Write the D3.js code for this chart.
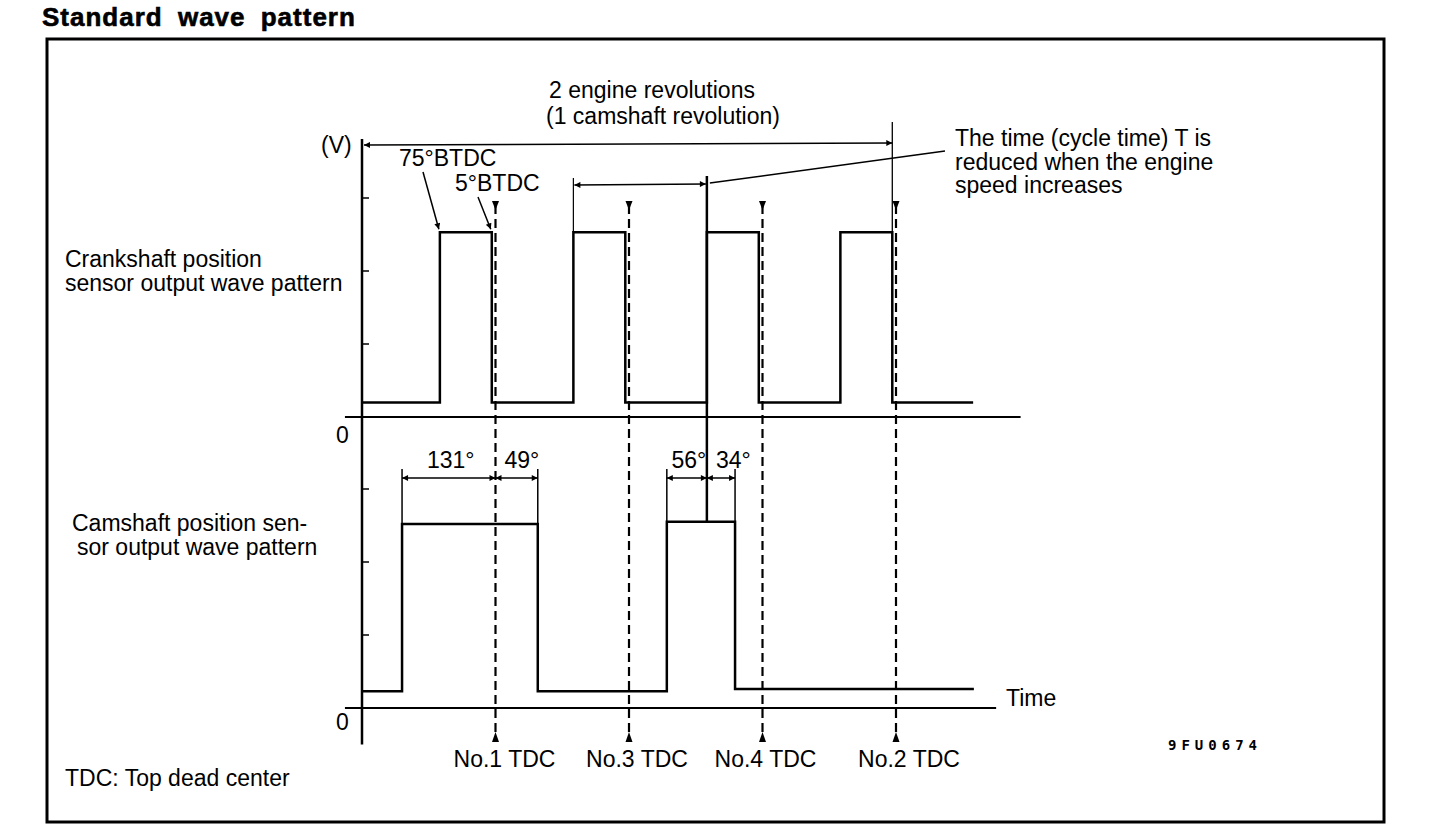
<!DOCTYPE html>
<html>
<head>
<meta charset="utf-8">
<script src="https://cdn.jsdelivr.net/npm/d3@7"></script>
<style>
  html, body { margin: 0; padding: 0; background: #fff; }
  svg { display: block; }
  text { font-family: "Liberation Sans", Arial, sans-serif; fill: #000; }
</style>
</head>
<body>
<div id="chart"></div>
<script>
// crank angle in degrees, 0 = left axis, No.1 TDC at 180
const tdcAngles = [180, 360, 540, 720];
const tdcLabels = ['No.1 TDC', 'No.3 TDC', 'No.4 TDC', 'No.2 TDC'];
const tdcLabelShift = [9, 8, 3, 13]; // label offsets

// crankshaft signal: [angle, level]
const crankWave = [
  [0, 0.2], [105, 0.2], [105, 2.53], [175, 2.53], [175, 0.2],
  [285, 0.2], [285, 2.53], [355, 2.53], [355, 0.2],
  [465, 0.2], [465, 2.53], [535, 2.53], [535, 0.2],
  [645, 0.2], [645, 2.53], [715, 2.53], [715, 0.2], [824, 0.2],
];
// camshaft signal: [angle, level]
const camWave = [
  [0, 0.23], [54, 0.23], [54, 2.52], [237, 2.52], [237, 0.23],
  [411, 0.23], [411, 2.55], [503, 2.55], [503, 0.26], [825, 0.26],
];
const crankTicks = [1, 2, 3];
const camTicks = [1, 2, 3];

const camDims = [
  {from: 54, mid: 180, to: 237, left: '131°', right: '49°'},
  {from: 411, mid: 465, to: 503, left: '56°', right: '34°'},
];

const width = 1440;
const height = 832;
const fs = '23px';

const svg = d3.select('#chart').append('svg')
  .attr('width', width)
  .attr('height', height);

// scales
const x = d3.scaleLinear().domain([0, 720]).range([362, 896]);
const yCrank = d3.scaleLinear().domain([0, 3]).range([417, 198]);
const yCam = d3.scaleLinear().domain([0, 3]).range([708, 489]);

// arrowhead markers
const defs = svg.append('defs');
defs.append('marker')
  .attr('id', 'arr')
  .attr('viewBox', '0 0 10 10')
  .attr('refX', 10).attr('refY', 5)
  .attr('markerWidth', 9).attr('markerHeight', 6)
  .attr('markerUnits', 'userSpaceOnUse')
  .attr('orient', 'auto-start-reverse')
  .append('path').attr('d', 'M0,0L10,5L0,10z').attr('fill', '#000');

// frame + title
svg.append('rect')
  .attr('x', 47).attr('y', 39).attr('width', 1337).attr('height', 783)
  .attr('fill', 'none').attr('stroke', '#000').attr('stroke-width', 3);

svg.append('text')
  .attr('x', 42).attr('y', 26)
  .style('font-size', '26px').style('font-weight', 'bold')
  .style('letter-spacing', '1px').style('word-spacing', '7px')
  .style('stroke', '#000').style('stroke-width', 0.6)
  .text('Standard wave pattern');

const line = d3.line();

// axes: single vertical line, zero lines
svg.append('line')
  .attr('x1', x(0)).attr('x2', x(0))
  .attr('y1', 139).attr('y2', yCam(-0.5))
  .attr('stroke', '#000').attr('stroke-width', 2.5);

svg.append('line')
  .attr('x1', x(-23)).attr('x2', x(888))
  .attr('y1', yCrank(0)).attr('y2', yCrank(0))
  .attr('stroke', '#000').attr('stroke-width', 2);
svg.append('line')
  .attr('x1', x(-23)).attr('x2', x(855))
  .attr('y1', yCam(0)).attr('y2', yCam(0))
  .attr('stroke', '#000').attr('stroke-width', 2);

svg.append('g').selectAll('line').data(crankTicks).join('line')
  .attr('x1', x(0)).attr('x2', x(0) + 7)
  .attr('y1', (d) => yCrank(d)).attr('y2', (d) => yCrank(d))
  .attr('stroke', '#000').attr('stroke-width', 1.5);
svg.append('g').selectAll('line').data(camTicks).join('line')
  .attr('x1', x(0)).attr('x2', x(0) + 7)
  .attr('y1', (d) => yCam(d)).attr('y2', (d) => yCam(d))
  .attr('stroke', '#000').attr('stroke-width', 1.5);

// the wave patterns
svg.append('path')
  .attr('d', line(crankWave.map((d) => [x(d[0]), yCrank(d[1])])))
  .attr('fill', 'none').attr('stroke', '#000').attr('stroke-width', 2.5);
svg.append('path')
  .attr('d', line(camWave.map((d) => [x(d[0]), yCam(d[1])])))
  .attr('fill', 'none').attr('stroke', '#000').attr('stroke-width', 2.5);

// TDC dashed lines with triangles
const tdc = svg.append('g').selectAll('g').data(tdcAngles).join('g');
tdc.append('line')
  .attr('x1', (d) => x(d)).attr('x2', (d) => x(d))
  .attr('y1', 205).attr('y2', 735)
  .attr('stroke', '#000').attr('stroke-width', 2.2)
  .attr('stroke-dasharray', '9 5');
tdc.append('path')
  .attr('d', (d) => `M${x(d) - 3.5},201L${x(d) + 3.5},201L${x(d)},210z`);
tdc.append('path')
  .attr('d', (d) => `M${x(d) - 3.5},742L${x(d) + 3.5},742L${x(d)},732z`);
tdc.append('text')
  .attr('x', (d, i) => x(d) + tdcLabelShift[i]).attr('y', 767)
  .attr('text-anchor', 'middle')
  .style('font-size', fs)
  .text((d, i) => tdcLabels[i]);

// 2 engine revolutions dimension
const revY = 145;
svg.append('line')
  .attr('x1', x(0) + 2).attr('x2', x(715))
  .attr('y1', revY).attr('y2', revY - 2)
  .attr('stroke', '#000').attr('stroke-width', 1.5)
  .attr('marker-start', 'url(#arr)').attr('marker-end', 'url(#arr)');
svg.append('line')
  .attr('x1', x(715)).attr('x2', x(715))
  .attr('y1', 122).attr('y2', yCrank(2.53))
  .attr('stroke', '#000').attr('stroke-width', 1.3);
svg.append('text').attr('x', 652).attr('y', 98).attr('text-anchor', 'middle')
  .style('font-size', fs).text('2 engine revolutions');
svg.append('text').attr('x', 663).attr('y', 124).attr('text-anchor', 'middle')
  .style('font-size', fs).text('(1 camshaft revolution)');

// cycle time T dimension
const cycY = 185;
svg.append('line')
  .attr('x1', x(285)).attr('x2', x(285))
  .attr('y1', 178).attr('y2', yCrank(2.53))
  .attr('stroke', '#000').attr('stroke-width', 1.2);
svg.append('line')
  .attr('x1', x(285) + 1).attr('x2', x(465) - 1)
  .attr('y1', cycY).attr('y2', cycY - 1)
  .attr('stroke', '#000').attr('stroke-width', 1.5)
  .attr('marker-start', 'url(#arr)').attr('marker-end', 'url(#arr)');
svg.append('line')
  .attr('x1', x(465)).attr('x2', x(465))
  .attr('y1', 176).attr('y2', yCam(2.55))
  .attr('stroke', '#000').attr('stroke-width', 2.5);
svg.append('line')
  .attr('x1', x(465) + 3).attr('x2', 945)
  .attr('y1', cycY - 2).attr('y2', 151)
  .attr('stroke', '#000').attr('stroke-width', 1.5);

// crank annotations
svg.append('text').attr('x', 321).attr('y', 153)
  .style('font-size', fs).text('(V)');
svg.append('text').attr('x', 399).attr('y', 166)
  .style('font-size', fs).text('75°BTDC');
svg.append('text').attr('x', 455).attr('y', 191)
  .style('font-size', fs).text('5°BTDC');
svg.append('line')
  .attr('x1', 423).attr('x2', x(105) - 1)
  .attr('y1', 172).attr('y2', yCrank(2.53) - 3)
  .attr('stroke', '#000').attr('stroke-width', 1.5)
  .attr('marker-end', 'url(#arr)');
svg.append('line')
  .attr('x1', 478).attr('x2', x(175) - 1)
  .attr('y1', 197).attr('y2', yCrank(2.53) - 3)
  .attr('stroke', '#000').attr('stroke-width', 1.5)
  .attr('marker-end', 'url(#arr)');

const note = ['The time (cycle time) T is', 'reduced when the engine', 'speed increases'];
svg.append('g').selectAll('text').data(note).join('text')
  .attr('x', 955).attr('y', (d, i) => 146 + i * 23.5)
  .style('font-size', fs).text((d) => d);

// left labels
const crankLabel = ['Crankshaft position', 'sensor output wave pattern'];
svg.append('g').selectAll('text').data(crankLabel).join('text')
  .attr('x', 65).attr('y', (d, i) => 267 + i * 23.5)
  .style('font-size', fs).text((d) => d);
const camLabel = ['Camshaft position sen-', 'sor output wave pattern'];
svg.append('g').selectAll('text').data(camLabel).join('text')
  .attr('x', (d, i) => 72 + i * 5).attr('y', (d, i) => 531 + i * 23.5)
  .style('font-size', fs).text((d) => d);

svg.append('text').attr('x', 336).attr('y', 443)
  .style('font-size', fs).text('0');
svg.append('text').attr('x', 336).attr('y', 730)
  .style('font-size', fs).text('0');
svg.append('text').attr('x', 1006).attr('y', 706)
  .style('font-size', fs).text('Time');

// camshaft angle dimensions
const dimY = 478;
camDims.forEach((d) => {
  [d.from, d.to].forEach((a) => {
    svg.append('line')
      .attr('x1', x(a)).attr('x2', x(a))
      .attr('y1', dimY - 9).attr('y2', yCam(2.52))
      .attr('stroke', '#000').attr('stroke-width', 1.5);
  });
  svg.append('line')
    .attr('x1', x(d.from)).attr('x2', x(d.mid))
    .attr('y1', dimY).attr('y2', dimY)
    .attr('stroke', '#000').attr('stroke-width', 1.5)
    .attr('marker-start', 'url(#arr)').attr('marker-end', 'url(#arr)');
  svg.append('line')
    .attr('x1', x(d.mid)).attr('x2', x(d.to))
    .attr('y1', dimY).attr('y2', dimY)
    .attr('stroke', '#000').attr('stroke-width', 1.5)
    .attr('marker-start', 'url(#arr)').attr('marker-end', 'url(#arr)');
  svg.append('text')
    .attr('x', (x(d.from) + x(d.mid)) / 2 + 2).attr('y', 468)
    .attr('text-anchor', 'middle')
    .style('font-size', fs).text(d.left);
  svg.append('text')
    .attr('x', x(d.mid) + 9).attr('y', 468)
    .style('font-size', fs).text(d.right);
});

// footer
svg.append('text').attr('x', 1168).attr('y', 750)
  .style('font-family', '"DejaVu Sans Mono", monospace')
  .style('font-size', '14px').style('font-weight', 'bold')
  .style('letter-spacing', '5px')
  .text('9FU0674');
svg.append('text').attr('x', 65).attr('y', 786)
  .style('font-size', fs).text('TDC: Top dead center');
</script>
</body>
</html>
